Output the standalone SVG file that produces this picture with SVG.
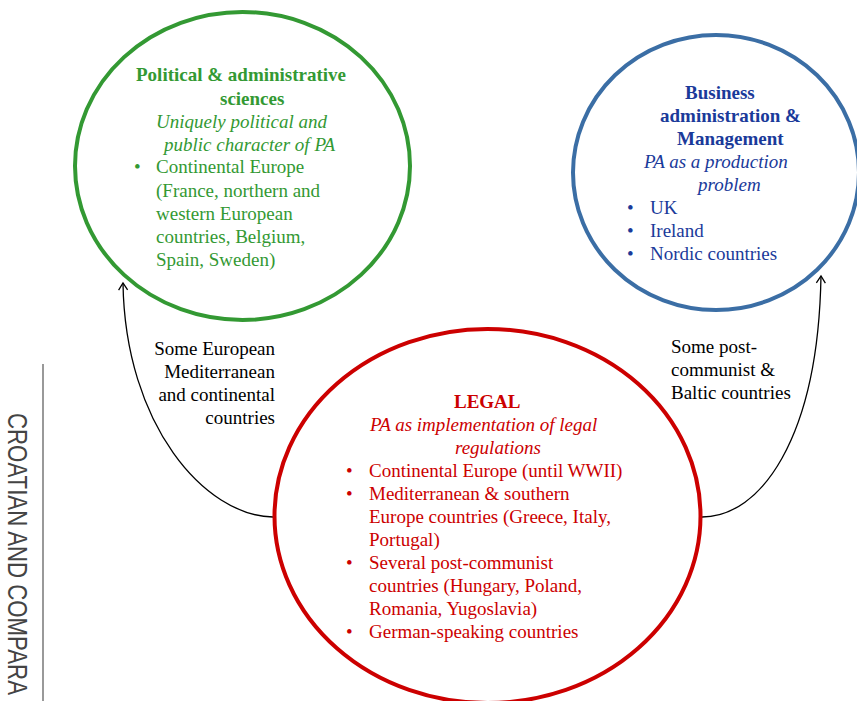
<svg xmlns="http://www.w3.org/2000/svg" width="857" height="701" viewBox="0 0 857 701">
<style>
  text { font-family: "Liberation Serif", "Times New Roman", serif; font-size: 19px; }
  .g { fill: #339933; }
  .b { fill: #1a3a9a; }
  .r { fill: #cc0000; }
  .k { fill: #000000; }
  .bold { font-weight: bold; }
  .it { font-style: italic; }
  .end { text-anchor: end; }
  .conn { fill: none; stroke: #000000; stroke-width: 1.3; marker-end: url(#arr); }
</style>
<defs>
  <marker id="arr" markerUnits="userSpaceOnUse" markerWidth="12" markerHeight="12" viewBox="-9 -6 11 12" refX="0" refY="0" orient="auto">
    <path d="M-7,-4.5 L0,0 L-7,4.5" fill="none" stroke="#000000" stroke-width="1.3"/>
  </marker>
</defs>
<rect width="857" height="701" fill="#ffffff"/>

<g id="margin-header">
  <line x1="43" y1="364" x2="43" y2="701" stroke="#555555" stroke-width="1.2"/>
  <text transform="translate(8,413) rotate(90)" style="font-family:'Liberation Sans',Arial,sans-serif;font-size:27px" fill="#444444" textLength="282" lengthAdjust="spacingAndGlyphs">CROATIAN AND COMPARA</text>
</g>

<g id="connectors">
  <path class="conn" d="M273,517 C205,516 125,425 123,283"/>
  <path class="conn" d="M702,517 C760,517 818,440 821,276"/>
</g>

<g id="node-political">
  <ellipse cx="242.5" cy="166" rx="167.5" ry="154" fill="none" stroke="#339933" stroke-width="4"/>
  <text class="g bold" x="136" y="81">Political &amp; administrative</text>
  <text class="g bold" x="220" y="105">sciences</text>
  <text class="g it" x="156" y="128">Uniquely political and</text>
  <text class="g it" x="164" y="151">public character of PA</text>
  <text class="g" x="134" y="173">•</text>
  <text class="g" x="156" y="173">Continental Europe</text>
  <text class="g" x="156" y="197">(France, northern and</text>
  <text class="g" x="156" y="220">western European</text>
  <text class="g" x="156" y="243">countries, Belgium,</text>
  <text class="g" x="156" y="266">Spain, Sweden)</text>
</g>

<g id="node-business">
  <ellipse cx="716" cy="172.5" rx="143" ry="137.5" fill="none" stroke="#3b6ea5" stroke-width="4"/>
  <text class="b bold" x="685" y="99">Business</text>
  <text class="b bold" x="660" y="122">administration &amp;</text>
  <text class="b bold" x="677" y="145">Management</text>
  <text class="b it" x="644" y="168">PA as a production</text>
  <text class="b it" x="698" y="191">problem</text>
  <text class="b" x="627" y="214">•</text>
  <text class="b" x="650" y="214">UK</text>
  <text class="b" x="627" y="237">•</text>
  <text class="b" x="650" y="237">Ireland</text>
  <text class="b" x="627" y="260">•</text>
  <text class="b" x="650" y="260">Nordic countries</text>
</g>

<g id="node-legal">
  <ellipse cx="487.5" cy="516" rx="213" ry="187" fill="none" stroke="#cc0000" stroke-width="4"/>
  <text class="r bold" x="454" y="408">LEGAL</text>
  <text class="r it" x="370" y="431">PA as implementation of legal</text>
  <text class="r it" x="455" y="454">regulations</text>
  <text class="r" x="346" y="477">•</text>
  <text class="r" x="369" y="477">Continental Europe (until WWII)</text>
  <text class="r" x="346" y="500">•</text>
  <text class="r" x="369" y="500">Mediterranean &amp; southern</text>
  <text class="r" x="369" y="523">Europe countries (Greece, Italy,</text>
  <text class="r" x="369" y="546">Portugal)</text>
  <text class="r" x="346" y="569">•</text>
  <text class="r" x="369" y="569">Several post-communist</text>
  <text class="r" x="369" y="592">countries (Hungary, Poland,</text>
  <text class="r" x="369" y="615">Romania, Yugoslavia)</text>
  <text class="r" x="346" y="638">•</text>
  <text class="r" x="369" y="638">German-speaking countries</text>
</g>

<g id="label-left">
  <text class="k end" x="275" y="355">Some European</text>
  <text class="k end" x="275" y="378">Mediterranean</text>
  <text class="k end" x="275" y="401">and continental</text>
  <text class="k end" x="275" y="424">countries</text>
</g>

<g id="label-right">
  <text class="k" x="671" y="353">Some post-</text>
  <text class="k" x="671" y="376">communist &amp;</text>
  <text class="k" x="671" y="399">Baltic countries</text>
</g>
</svg>
